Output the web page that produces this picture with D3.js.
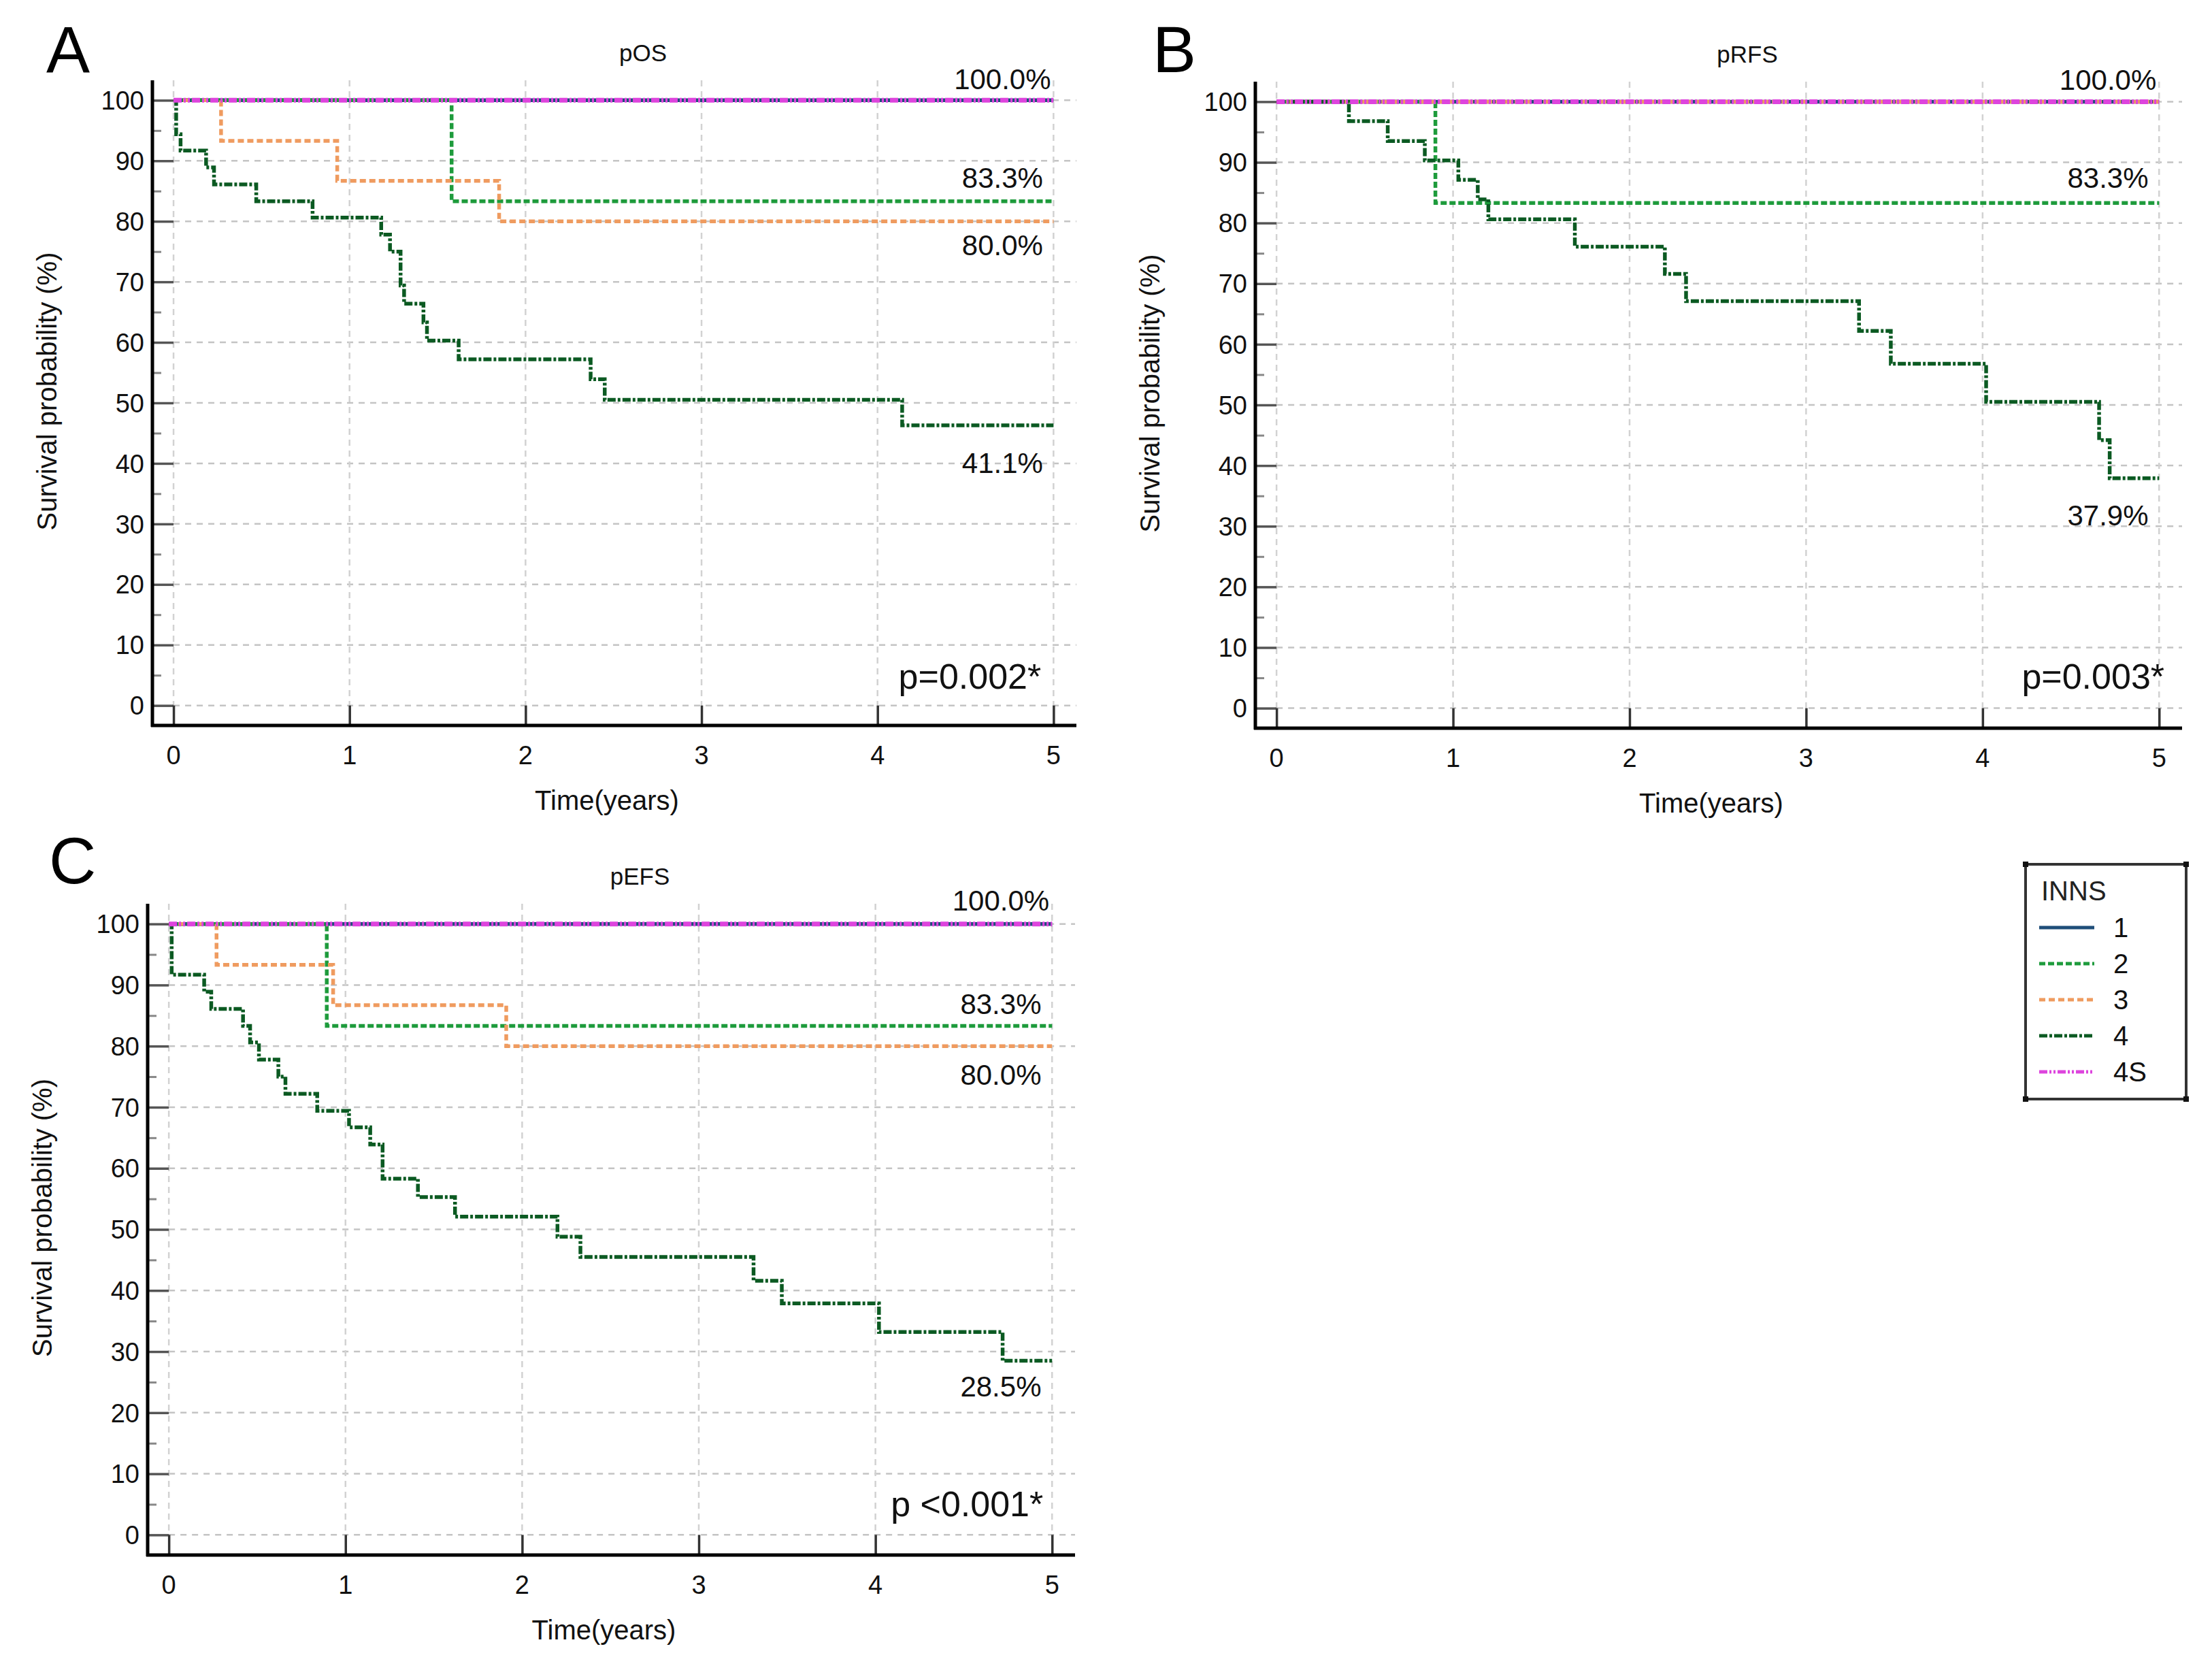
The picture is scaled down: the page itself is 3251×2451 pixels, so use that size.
<!DOCTYPE html>
<head>
  <meta charset="utf-8">
  <style>
    body { margin: 0; background: #fff; }
    svg { display: block; font-family: 'Liberation Sans', Arial, sans-serif; }
  </style>
  <script src="https://cdn.jsdelivr.net/npm/d3@7/dist/d3.min.js"></script>
</head>
<body>
<div id=chart></div>
<script>
// INNS stage groups
const groups = ['1', '2', '3', '4', '4S']
const groupColors = ['#1f4e79', '#1e9b3c', '#ef9b5f', '#0b5a22', '#dd44dd']
const groupDash = ['none', '9,4', '9,5', '12,3,4,3', '12,3,3,3,3,3']

const xTicks = [0, 1, 2, 3, 4, 5]
const yTicks = [0, 10, 20, 30, 40, 50, 60, 70, 80, 90, 100]
const yMinorTicks = [5, 15, 25, 35, 45, 55, 65, 75, 85, 95]

// each step: [time in years, survival % after the event]
const osSteps = [
  [],
  [[1.58, 83.3]],
  [[0.27, 93.3], [0.93, 86.7], [1.85, 80.0]],
  [[0.015, 94.4], [0.04, 91.7], [0.185, 88.9], [0.23, 86.1], [0.47, 83.3], [0.79, 80.6],
   [1.18, 77.8], [1.23, 75.0], [1.29, 69.4], [1.31, 66.4], [1.42, 63.3], [1.44, 60.3],
   [1.62, 57.2], [2.37, 53.9], [2.45, 50.5], [4.14, 46.3]],
  []
]
const rfsSteps = [
  [],
  [[0.9, 83.3]],
  [],
  [[0.41, 96.8], [0.63, 93.5], [0.84, 90.3], [1.03, 87.1], [1.14, 83.9], [1.2, 80.6],
   [1.69, 76.1], [2.2, 71.6], [2.32, 67.1], [3.3, 62.2], [3.48, 56.8], [4.02, 50.5],
   [4.66, 44.2], [4.72, 37.9]],
  []
]
const efsSteps = [
  [],
  [[0.894, 83.3]],
  [[0.27, 93.3], [0.93, 86.7], [1.91, 80.0]],
  [[0.016, 91.7], [0.2, 88.9], [0.24, 86.1], [0.42, 83.3], [0.46, 80.6], [0.51, 77.8],
   [0.62, 75.0], [0.66, 72.2], [0.84, 69.4], [1.02, 66.7], [1.14, 63.9], [1.21, 58.3],
   [1.41, 55.3], [1.62, 52.1], [2.2, 48.8], [2.33, 45.5], [3.31, 41.6], [3.47, 37.9],
   [4.02, 33.2], [4.72, 28.5]],
  []
]

// end-of-follow-up labels: [text, y value of baseline]
const osLabels = [['100.0%', 101.8], ['83.3%', 85.5], ['80.0%', 74.4], ['41.1%', 38.4]]
const rfsLabels = [['100.0%', 102.0], ['83.3%', 85.8], ['37.9%', 30.1]]
const efsLabels = [['100.0%', 102.2], ['83.3%', 85.3], ['80.0%', 73.7], ['28.5%', 22.6]]

const panels = [
  { letter: 'A', title: 'pOS', steps: osSteps, labels: osLabels, p: 'p=0.002*', pX: 4.93, pY: 2.8,
    box: { left: 224, right: 1582, top: 118, bottom: 1066 }, letterX: 68, letterY: 106 },
  { letter: 'B', title: 'pRFS', steps: rfsSteps, labels: rfsLabels, p: 'p=0.003*', pX: 5.03, pY: 3.2,
    box: { left: 1845, right: 3207, top: 120, bottom: 1070 }, letterX: 1694, letterY: 106 },
  { letter: 'C', title: 'pEFS', steps: efsSteps, labels: efsLabels, p: 'p <0.001*', pX: 4.95, pY: 3.1,
    box: { left: 217, right: 1580, top: 1328, bottom: 2285 }, letterX: 72, letterY: 1298 },
]

const W = 3251, H = 2451
const svg = d3.select('#chart').append('svg')
  .attr('width', W).attr('height', H).attr('viewBox', [0, 0, W, H])

svg.append('rect').attr('width', W).attr('height', H).attr('fill', '#fff')

panels.forEach(panel => {
  const b = panel.box
  const x = d3.scaleLinear().domain([-0.12, 5.13]).range([b.left, b.right])
  const y = d3.scaleLinear().domain([-3.3, 103.3]).range([b.bottom, b.top])
  const g = svg.append('g')

  // grid
  g.append('g').selectAll('line').data(yTicks).join('line')
    .attr('x1', x(0)).attr('x2', b.right)
    .attr('y1', d => y(d)).attr('y2', d => y(d))
    .attr('stroke', '#c4c4c4').attr('stroke-width', 2.5).attr('stroke-dasharray', '9,8')
  g.append('g').selectAll('line').data(xTicks).join('line')
    .attr('x1', d => x(d)).attr('x2', d => x(d))
    .attr('y1', b.top).attr('y2', y(0))
    .attr('stroke', '#d2d2d2').attr('stroke-width', 2.5).attr('stroke-dasharray', '9,7')

  // axes with inward ticks
  const yAxis = d3.axisRight(y).tickValues(yTicks).tickSize(x(0) - b.left).tickFormat('')
  g.append('g').attr('transform', `translate(${b.left},0)`).call(yAxis)
    .call(a => a.select('.domain').remove())
    .call(a => a.selectAll('.tick line').attr('stroke', '#555').attr('stroke-width', 3.5))
  const yMinor = d3.axisRight(y).tickValues(yMinorTicks).tickSize(13).tickFormat('')
  g.append('g').attr('transform', `translate(${b.left},0)`).call(yMinor)
    .call(a => a.select('.domain').remove())
    .call(a => a.selectAll('.tick line').attr('stroke', '#888').attr('stroke-width', 3))
  const xAxis = d3.axisTop(x).tickValues(xTicks).tickSize(b.bottom - y(0)).tickFormat('')
  g.append('g').attr('transform', `translate(0,${b.bottom})`).call(xAxis)
    .call(a => a.select('.domain').remove())
    .call(a => a.selectAll('.tick line').attr('stroke', '#333').attr('stroke-width', 3.5))

  g.append('g').selectAll('text').data(yTicks).join('text')
    .attr('x', b.left - 12).attr('y', d => y(d)).attr('dy', '0.36em')
    .attr('text-anchor', 'end').attr('font-size', 38).attr('fill', '#111')
    .text(d => d)
  g.append('g').selectAll('text').data(xTicks).join('text')
    .attr('x', d => x(d)).attr('y', b.bottom + 43).attr('dy', '0.36em')
    .attr('text-anchor', 'middle').attr('font-size', 38).attr('fill', '#111')
    .text(d => d)

  g.append('line').attr('x1', b.left).attr('x2', b.left).attr('y1', b.top).attr('y2', b.bottom + 2)
    .attr('stroke', '#000').attr('stroke-width', 5)
  g.append('line').attr('x1', b.left - 2).attr('x2', b.right).attr('y1', b.bottom).attr('y2', b.bottom)
    .attr('stroke', '#000').attr('stroke-width', 5)

  // curves
  const line = d3.line().x(d => x(d[0])).y(d => y(d[1])).curve(d3.curveStepAfter)
  groups.forEach((grp, i) => {
    const st = panel.steps[i]
    const pts = [[0, 100], ...st]
    pts.push([5, pts[pts.length - 1][1]])
    g.append('path').datum(pts)
      .attr('d', line)
      .attr('fill', 'none')
      .attr('stroke', groupColors[i])
      .attr('stroke-width', grp === '4S' ? 7 : 5.5)
      .attr('stroke-dasharray', groupDash[i])
  })

  // texts
  g.append('g').selectAll('text').data(panel.labels).join('text')
    .attr('x', x(4.71)).attr('y', d => y(d[1]))
    .attr('text-anchor', 'middle').attr('font-size', 42).attr('fill', '#111')
    .text(d => d[0])
  g.append('text').attr('x', x(panel.pX)).attr('y', y(panel.pY))
    .attr('text-anchor', 'end').attr('font-size', 52).attr('fill', '#111').text(panel.p)
  g.append('text').attr('x', (b.left + b.right) / 2 + 42).attr('y', b.top - 28)
    .attr('text-anchor', 'middle').attr('font-size', 35).attr('fill', '#111').text(panel.title)
  g.append('text').attr('x', panel.letterX).attr('y', panel.letterY)
    .attr('font-size', 96).attr('fill', '#000').text(panel.letter)
  g.append('text')
    .attr('transform', `translate(${b.left - 155},${(b.top + b.bottom) / 2 - 17}) rotate(-90)`)
    .attr('text-anchor', 'middle').attr('dy', '0.36em').attr('font-size', 40).attr('fill', '#111')
    .text('Survival probability (%)')
  g.append('text').attr('x', (b.left + b.right) / 2 - 11).attr('y', b.bottom + 110).attr('dy', '0.36em')
    .attr('text-anchor', 'middle').attr('font-size', 40).attr('fill', '#111').text('Time(years)')
})

// legend
const lg = svg.append('g')
lg.append('rect').attr('x', 2977).attr('y', 1270).attr('width', 236).attr('height', 345)
  .attr('fill', '#fff').attr('stroke', '#333').attr('stroke-width', 4)
lg.selectAll('rect.corner').data([[2977, 1270], [3213, 1270], [2977, 1615], [3213, 1615]]).join('rect')
  .attr('class', 'corner').attr('x', d => d[0] - 4).attr('y', d => d[1] - 4)
  .attr('width', 8).attr('height', 8).attr('fill', '#111')
lg.append('text').attr('x', 3000).attr('y', 1323).attr('font-size', 40).attr('fill', '#222').text('INNS')
const ly = d3.scalePoint().domain(groups).range([1363, 1575])
groups.forEach((grp, i) => {
  lg.append('line').attr('x1', 2997).attr('x2', 3078).attr('y1', ly(grp)).attr('y2', ly(grp))
    .attr('stroke', groupColors[i]).attr('stroke-width', 5).attr('stroke-dasharray', groupDash[i])
  lg.append('text').attr('x', 3106).attr('y', ly(grp)).attr('dy', '0.36em')
    .attr('font-size', 40).attr('fill', '#111').text(grp)
})
</script>
</body>
